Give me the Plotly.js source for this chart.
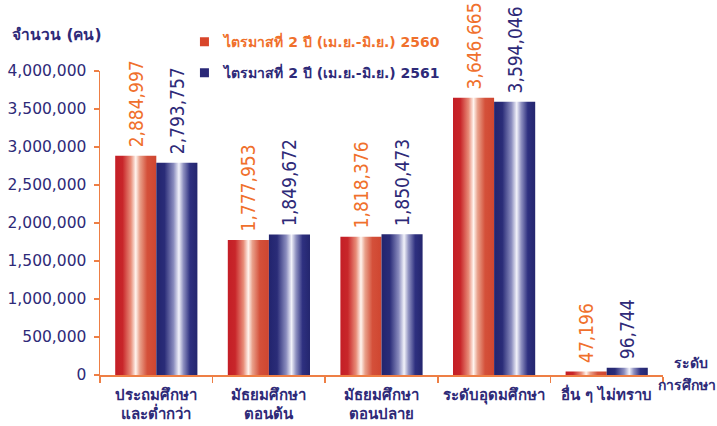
<!DOCTYPE html>
<html>
<head>
<meta charset="utf-8">
<script src="https://cdn.plot.ly/plotly-3.0.1.min.js"></script>
<style>html,body{margin:0;padding:0;background:#fff}#chart{width:717px;height:426px}</style>
</head>
<body>
<div id="chart"></div>
<script>
const categories = ["ประถมศึกษา<br>และต่ำกว่า", "มัธยมศึกษา<br>ตอนต้น", "มัธยมศึกษา<br>ตอนปลาย", "ระดับอุดมศึกษา", "อื่น ๆ ไม่ทราบ"];
const seriesNames = ["ไตรมาสที่ 2 ปี (เม.ย.-มิ.ย.) 2560", "ไตรมาสที่ 2 ปี (เม.ย.-มิ.ย.) 2561"];
const values2560 = [2884997, 1777953, 1818376, 3646665, 47196];
const values2561 = [2793757, 1849672, 1850473, 3594046, 96744];
const yTickVals = [0, 500000, 1000000, 1500000, 2000000, 2500000, 3000000, 3500000, 4000000];

const ORANGE = '#F0702C';
const NAVY = '#2E2A78';
const AXIS = '#EE7F45';
const FONT = 'DejaVu Sans, Noto Sans, sans-serif';
const LBLFONT = 'Liberation Sans Narrow, DejaVu Sans Condensed, sans-serif';
const fmt = v => v.toLocaleString('en-US');
const lbl = v => '\u00A0' + fmt(v);

const traces = [
  {type:'bar', x:categories, y:values2560, name:seriesNames[0], legend:'legend',
   marker:{color:'#D8452A', line:{width:0}}, text:values2560.map(lbl), textposition:'outside',
   textangle:-90, constraintext:'none', cliponaxis:false,
   textfont:{family:LBLFONT, size:19, color:ORANGE}, hoverinfo:'skip'},
  {type:'bar', x:categories, y:values2561, name:seriesNames[1], legend:'legend2',
   marker:{color:'#2A2878', line:{width:0}}, text:values2561.map(lbl), textposition:'outside',
   textangle:-90, constraintext:'none', cliponaxis:false,
   textfont:{family:LBLFONT, size:19, color:NAVY}, hoverinfo:'skip'}
];

const layout = {
  width:717, height:426,
  margin:{l:100, r:54, t:71, b:51},
  paper_bgcolor:'#fff', plot_bgcolor:'#fff',
  barmode:'group', bargap:0.27, bargroupgap:0,
  font:{family:FONT, color:NAVY},
  xaxis:{type:'category', tickson:'boundaries', ticks:'outside', ticklen:6, tickcolor:AXIS, tickwidth:1.5,
         showline:true, linecolor:AXIS, linewidth:1.5, showgrid:false, zeroline:false, ticklabelstandoff:5,
         tickfont:{family:FONT, size:15, color:NAVY, weight:'bold'}},
  yaxis:{range:[0,4000000], tickvals:yTickVals, ticktext:yTickVals.map(fmt), ticks:'outside', ticklen:5,
         tickcolor:AXIS, tickwidth:1.5, showline:true, linecolor:AXIS, linewidth:1.5, showgrid:false, zeroline:false,
         ticklabelstandoff:4, tickfont:{family:FONT, size:15.5, color:NAVY}},
  showlegend:true,
  legend:{x:0.15, y:1.095, xanchor:'left', yanchor:'middle', bgcolor:'rgba(0,0,0,0)',
          font:{family:FONT, size:14, color:ORANGE, weight:'bold'}},
  legend2:{x:0.15, y:0.993, xanchor:'left', yanchor:'middle', bgcolor:'rgba(0,0,0,0)',
          font:{family:FONT, size:14, color:NAVY, weight:'bold'}},
  annotations:[
    {xref:'paper', yref:'paper', x:-0.076, y:1.118, xanchor:'center', yanchor:'middle', text:'จำนวน (คน)', showarrow:false,
     font:{family:FONT, size:15.5, color:NAVY, weight:'bold'}},
    {xref:'paper', yref:'paper', x:1.05, y:0.04, xanchor:'center', yanchor:'middle', text:'ระดับ', showarrow:false,
     font:{family:FONT, size:14, color:NAVY, weight:'bold'}},
    {xref:'paper', yref:'paper', x:1.0975, y:-0.033, xanchor:'right', yanchor:'middle', text:'การศึกษา', showarrow:false,
     font:{family:FONT, size:14, color:NAVY, weight:'bold'}}
  ]
};

Plotly.newPlot('chart', traces, layout, {staticPlot:true}).then(gd => {
  const svg = gd.querySelector('svg.main-svg');
  const ns = 'http://www.w3.org/2000/svg';
  let defs = svg.querySelector('defs');
  if (!defs) { defs = document.createElementNS(ns,'defs'); svg.insertBefore(defs, svg.firstChild); }
  function grad(id, stops) {
    const g = document.createElementNS(ns,'linearGradient');
    g.setAttribute('id', id); g.setAttribute('x1','0'); g.setAttribute('x2','1'); g.setAttribute('y1','0'); g.setAttribute('y2','0');
    stops.forEach(([o,c]) => { const s = document.createElementNS(ns,'stop'); s.setAttribute('offset',o); s.setAttribute('stop-color',c); g.appendChild(s); });
    defs.appendChild(g);
  }
  grad('gRed', [[0,'#C41E26'],[0.18,'#C8262A'],[0.38,'#E88C78'],[0.5,'#FFF4EE'],[0.6,'#E9A08A'],[0.78,'#D4503A'],[1,'#CF4630']]);
  grad('gBlue', [[0,'#22246E'],[0.2,'#2A2C78'],[0.42,'#8A8CBE'],[0.55,'#F2F2FA'],[0.66,'#8E90C0'],[0.82,'#2E3080'],[1,'#24266E']]);
  const tr = gd.querySelectorAll('.barlayer .trace');
  ['gRed','gBlue'].forEach((id, i) => {
    if (tr[i]) tr[i].querySelectorAll('.point path').forEach(p => { p.style.fill = 'url(#' + id + ')'; });
  });
  gd.querySelectorAll('.legendpoints path').forEach(p => { p.setAttribute('d','M4.5,4.5H-4.5V-4.5H4.5Z'); });
});
</script>
</body>
</html>
